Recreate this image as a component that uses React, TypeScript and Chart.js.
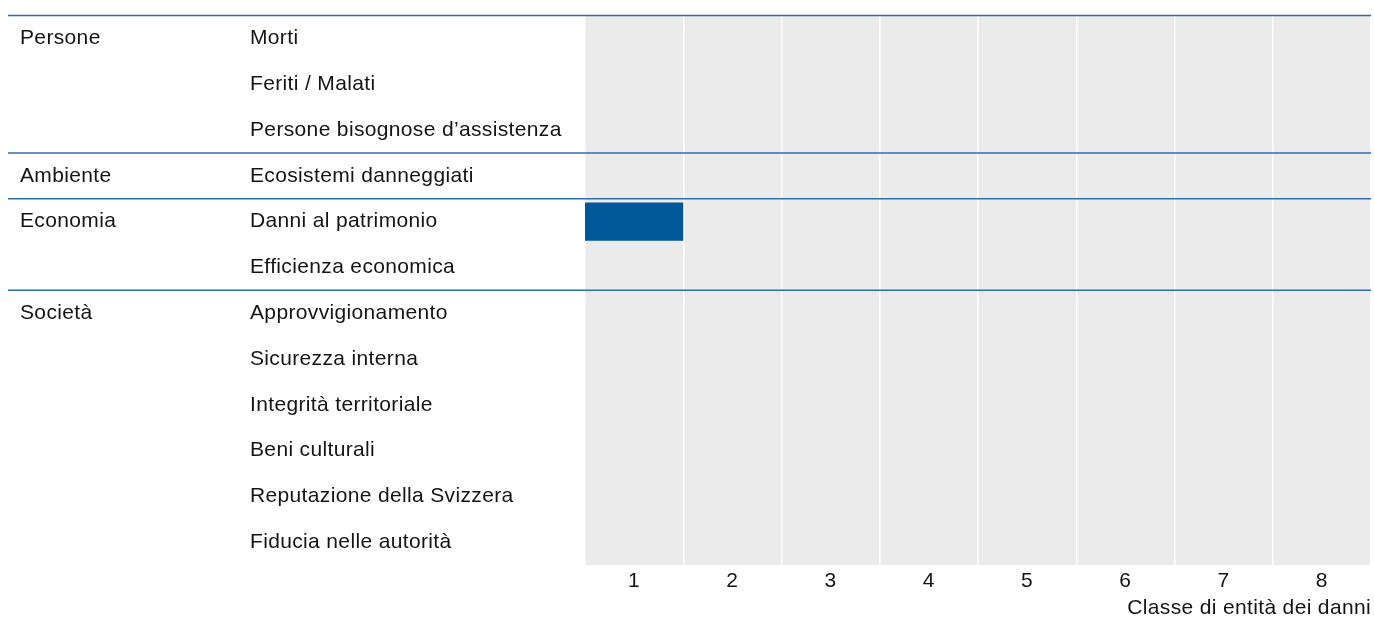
import React, { useEffect, useRef } from "react";
import { Chart, registerables } from "chart.js";

Chart.register(...registerables);

const categories = [
  "Morti",
  "Feriti / Malati",
  "Persone bisognose d’assistenza",
  "Ecosistemi danneggiati",
  "Danni al patrimonio",
  "Efficienza economica",
  "Approvvigionamento",
  "Sicurezza interna",
  "Integrità territoriale",
  "Beni culturali",
  "Reputazione della Svizzera",
  "Fiducia nelle autorità",
];
const groupNames = ["Persone", "Ambiente", "Economia", "Società"];
const groupStarts = [0, 3, 4, 6];
const damageClass = [null, null, null, null, 1, null, null, null, null, null, null, null];
const tickLabels = ["1", "2", "3", "4", "5", "6", "7", "8"];
const axisTitle = "Classe di entità dei danni";

const FONT = "'Liberation Sans', Arial, sans-serif";
const FSIZE = 21;
const TEXT = "#141414";
const LINE = "#2f6eab";

export default function App() {
  const ref = useRef<HTMLCanvasElement | null>(null);
  useEffect(() => {
    document.body.style.margin = "0";
    const canvas = ref.current!;
    const bgPlugin = {
      id: "bg",
      beforeDraw(chart: any) {
        const { ctx, chartArea: a } = chart;
        (ctx as any).letterSpacing = "0.35px";
        ctx.save();
        ctx.fillStyle = "#ebebeb";
        ctx.fillRect(a.left, a.top, a.right - a.left, a.bottom - a.top);
        ctx.restore();
      },
      afterDatasetsDraw(chart: any) {
        const { ctx, chartArea: a } = chart;
        const y = chart.scales.y;
        ctx.save();
        ctx.strokeStyle = LINE;
        ctx.lineWidth = 1.5;
        groupStarts.forEach((s) => {
          const py = s === 0 ? a.top : y.getPixelForValue(s - 0.5);
          ctx.beginPath();
          ctx.moveTo(8, py);
          ctx.lineTo(a.right, py);
          ctx.stroke();
        });
        ctx.fillStyle = TEXT;
        ctx.font = `${FSIZE}px ${FONT}`;
        ctx.textAlign = "left";
        ctx.textBaseline = "middle";
        groupNames.forEach((g, i) => {
          ctx.fillText(g, 20, y.getPixelForValue(groupStarts[i]));
        });
        ctx.restore();
      },
    };
    const chart = new Chart(canvas, {
      type: "bar",
      data: {
        labels: categories,
        datasets: [
          {
            data: damageClass as any,
            backgroundColor: "#00589b",
            borderWidth: 0,
            categoryPercentage: 1,
            barPercentage: 0.83,
          },
        ],
      },
      options: {
        indexAxis: "y",
        animation: false,
        responsive: false,
        maintainAspectRatio: false,
        layout: { padding: { left: 250, top: 15, right: 3, bottom: 0 } },
        plugins: { legend: { display: false }, tooltip: { enabled: false } },
        scales: {
          x: {
            type: "linear",
            min: 0,
            max: 8,
            afterBuildTicks(scale: any) {
              scale.ticks = tickLabels.map((_, i) => ({ value: i + 0.5 }));
            },
            afterFit(scale: any) {
              scale.height = 54;
            },
            ticks: {
              color: TEXT,
              font: { family: FONT, size: FSIZE },
              padding: 4,
              maxRotation: 0,
              autoSkip: false,
              callback: (_v: any, i: number) => tickLabels[i],
            },
            grid: { color: "#ffffff", lineWidth: 1.5, offset: true, drawTicks: false },
            border: { display: false },
            title: {
              display: true,
              text: axisTitle,
              align: "end",
              color: TEXT,
              font: { family: FONT, size: FSIZE, lineHeight: 1 },
              padding: { top: 0, bottom: 0 },
            },
          },
          y: {
            type: "category",
            afterFit(scale: any) {
              scale.width = 335;
            },
            ticks: {
              color: TEXT,
              font: { family: FONT, size: FSIZE },
              crossAlign: "far",
              autoSkip: false,
            },
            grid: { display: false, drawTicks: false },
            border: { display: false },
          },
        },
      },
      plugins: [bgPlugin],
    } as any);
    return () => chart.destroy();
  }, []);
  return <canvas ref={ref} width={1374} height={619} style={{ display: "block" }} />;
}
